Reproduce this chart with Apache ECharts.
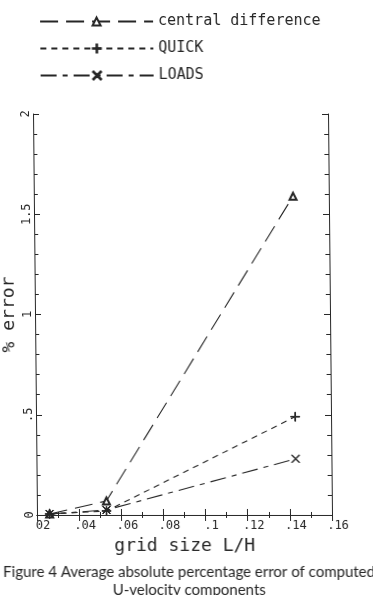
<!DOCTYPE html>
<html>
<head>
<meta charset="utf-8">
<script src="https://cdn.jsdelivr.net/npm/echarts@6/dist/echarts.min.js"></script>
<style>
    html, body { margin: 0; padding: 0; background: #fff; }
    #chart {
        width: 373px;
        height: 595px;
        /* the scanned figure leans a little: bottom of the frame sits ~4px right of the top */
        transform: skewX(0.57deg);
        transform-origin: 0 314px;
    }
</style>
</head>
<body>
<div id="chart"></div>
<script>
// grid size L/H for the three computations
const gridSize = [0.026, 0.053, 0.143];
// % error per scheme
const centralDiff = [0.005, 0.07, 1.59];
const quick = [0.005, 0.02, 0.49];
const loads = [0.005, 0.025, 0.28];

const xTickLabels = ['02', '.04', '.06', '.08', '.1', '.12', '.14', '.16'];
const yTickLabels = ['0', '.5', '1', '1.5', '2'];
const seriesNames = ['central difference', 'QUICK', 'LOADS'];

const INK = '#262626';
const MONO = 'DejaVu Sans Mono';
const PLUS = 'path://M4.6,0H5.4V4.6H10V5.4H5.4V10H4.6V5.4H0V4.6H4.6Z';
const CROSS = 'path://M0,0.6L0.6,0L5,4.4L9.4,0L10,0.6L5.6,5L10,9.4L9.4,10L5,5.6L0.6,10L0,9.4L4.4,5Z';

const toPairs = ys => gridSize.map((x, i) => [x, ys[i]]);

const myChart = echarts.init(document.getElementById('chart'));

const xBase = {
    type: 'value',
    min: 0.02,
    max: 0.16,
    interval: 0.02,
    axisLine: { show: true, lineStyle: { color: INK, width: 1 } },
    axisTick: { show: true, inside: true, length: 6, lineStyle: { color: INK } },
    minorTick: { show: true, splitNumber: 2, length: 3, lineStyle: { color: INK } },
    splitLine: { show: false }
};

const yBase = {
    type: 'value',
    min: 0,
    max: 2,
    interval: 0.5,
    axisLine: { show: true, lineStyle: { color: INK, width: 1 } },
    axisTick: { show: true, inside: true, length: 6, lineStyle: { color: INK } },
    minorTick: { show: true, splitNumber: 5, length: 4, lineStyle: { color: INK } },
    splitLine: { show: false }
};

const lineSeries = (name, ys, symbol, size, dash) => ({
    name: name,
    type: 'line',
    data: toPairs(ys),
    symbol: symbol,
    symbolSize: size,
    showAllSymbol: true,
    itemStyle: { color: INK, borderColor: INK, borderWidth: 1 },
    lineStyle: { color: INK, width: 1.1, type: dash },
    emphasis: { disabled: true },
    animation: false
});

let option = {
    backgroundColor: '#fff',
    animation: false,
    legend: {
        orient: 'vertical',
        left: 37,
        top: 9,
        itemWidth: 113,
        itemHeight: 10,
        itemGap: 12,
        textStyle: { fontFamily: MONO, fontSize: 15, color: INK },
        data: seriesNames
    },
    title: {
        text: 'Figure 4 Average absolute percentage error of computed\nU-velocity components',
        left: 'center',
        top: 558,
        textStyle: {
            fontFamily: 'Lato',
            fontSize: 15,
            fontWeight: 'normal',
            color: INK,
            lineHeight: 18,
            align: 'center'
        }
    },
    grid: {
        left: 35,
        right: 43,
        top: 114,
        bottom: 80,
        outerBoundsMode: 'none',
        containLabel: false
    },
    xAxis: [
        Object.assign({}, xBase, {
            position: 'bottom',
            name: 'grid size L/H',
            nameLocation: 'middle',
            nameGap: 22,
            nameMoveOverlap: false,
            nameTextStyle: { fontFamily: MONO, fontSize: 18, color: INK },
            axisLabel: {
                fontFamily: MONO,
                fontSize: 12,
                color: INK,
                margin: 5,
                padding: [0, 0, 0, 12],
                formatter: v => xTickLabels[Math.round((v - 0.02) / 0.02)]
            }
        }),
        Object.assign({}, xBase, {
            position: 'top',
            axisLabel: { show: false }
        })
    ],
    yAxis: [
        Object.assign({}, yBase, {
            position: 'left',
            name: '% error',
            nameLocation: 'middle',
            nameRotate: 90,
            nameGap: 17,
            nameMoveOverlap: false,
            nameTextStyle: { fontFamily: MONO, fontSize: 18, color: INK },
            axisLabel: {
                fontFamily: MONO,
                fontSize: 12,
                color: INK,
                rotate: 90,
                margin: 1,
                formatter: v => yTickLabels[Math.round(v / 0.5)]
            }
        }),
        Object.assign({}, yBase, {
            position: 'right',
            axisLabel: { show: false }
        })
    ],
    series: [
        lineSeries(seriesNames[0], centralDiff, 'emptyTriangle', 7, [18, 8]),
        lineSeries(seriesNames[1], quick, PLUS, 9, [6, 5]),
        lineSeries(seriesNames[2], loads, CROSS, 8, [16, 6, 5, 6])
    ]
};

myChart.setOption(option);
</script>
</body>
</html>
